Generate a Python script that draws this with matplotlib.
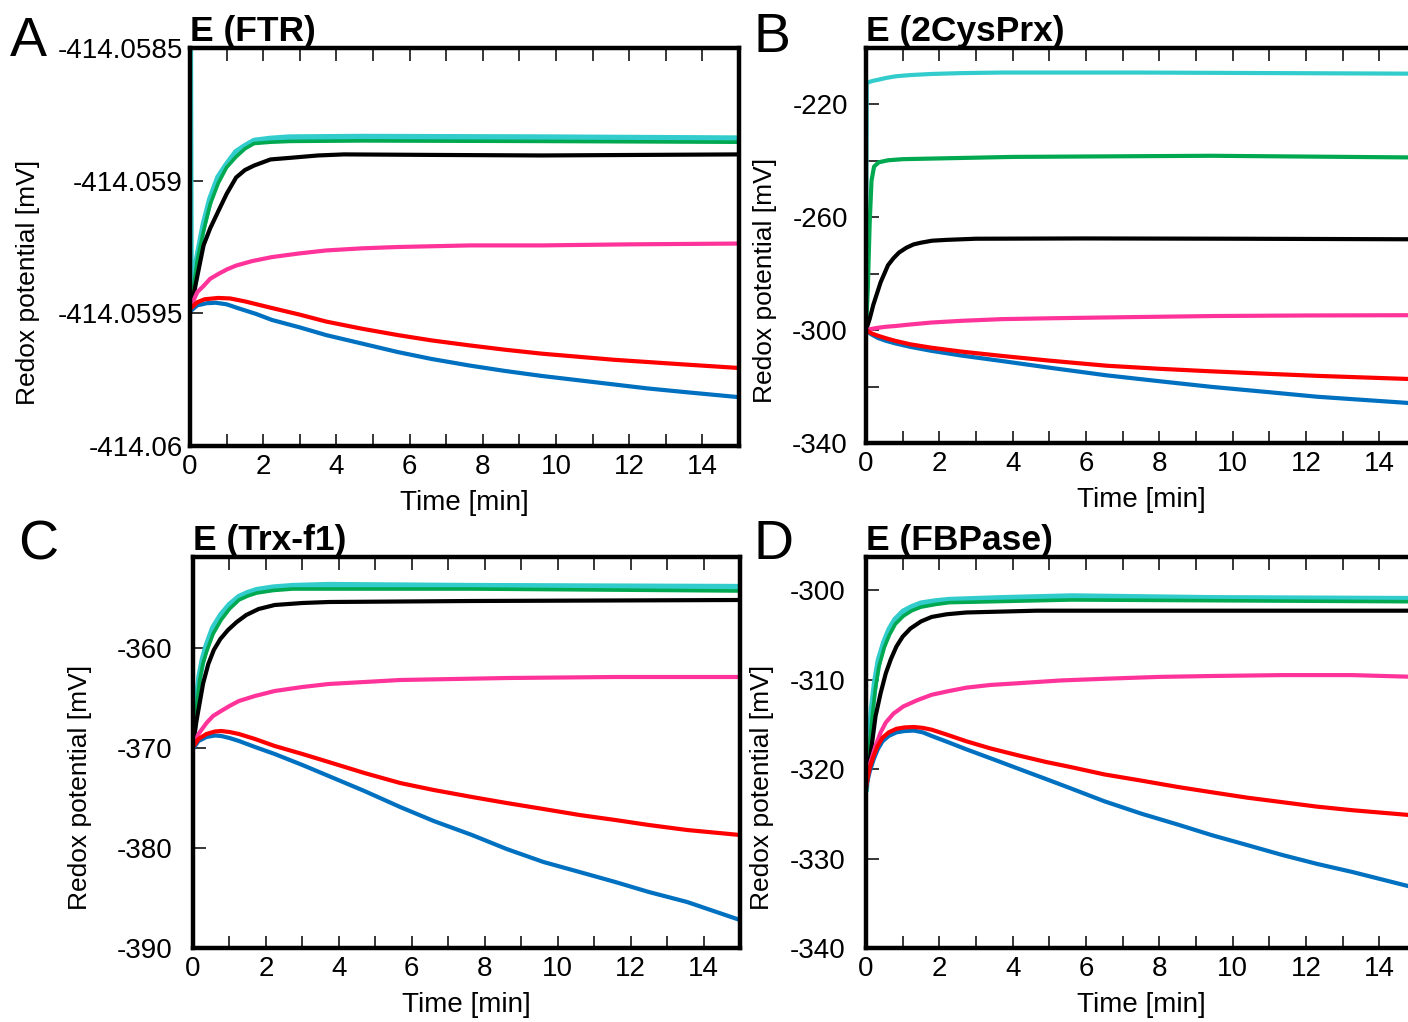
import matplotlib
matplotlib.use("Agg")
import matplotlib.pyplot as plt
from matplotlib.ticker import MultipleLocator, FixedLocator

plt.rcParams["font.family"] = ["Liberation Sans", "DejaVu Sans"]

# colours of the six conditions
C_CYAN = "#33CCCC"
C_GREEN = "#00A850"
C_BLACK = "#000000"
C_PINK = "#FF3399"
C_RED = "#FF0000"
C_BLUE = "#0070C0"

# ---------------------------------------------------------------- #
# Panel A: E (FTR)
# ---------------------------------------------------------------- #
a_cyan_t = [0, 0.02, 0.1, 0.2, 0.37, 0.55, 0.77, 1.0, 1.26, 1.5, 1.75, 2.2,
            2.73, 4.7, 9.6, 15]
a_cyan_v = [-414.0585, -414.05945, -414.05938, -414.05929, -414.059167,
            -414.05907, -414.058988, -414.05894, -414.058892, -414.05887,
            -414.05885, -414.058842, -414.058837, -414.058835, -414.058837,
            -414.058841]
a_green_t = [0, 0.1, 0.2, 0.37, 0.55, 0.77, 1.0, 1.26, 1.5, 1.75, 2.2, 2.73,
             4.7, 9.6, 15]
a_green_v = [-414.0595, -414.0594, -414.0593, -414.05919, -414.05909,
             -414.05901, -414.05895, -414.05891, -414.05888, -414.05886,
             -414.058855, -414.058852, -414.05885, -414.058852, -414.058855]
a_black_t = [0, 0.1, 0.2, 0.37, 0.55, 0.77, 1.0, 1.26, 1.5, 1.75, 2.2, 2.73,
             3.5, 4.21, 6.66, 9.61, 15]
a_black_v = [-414.0595, -414.05943, -414.05936, -414.059244, -414.05918,
             -414.059116, -414.05905, -414.058988, -414.05896, -414.058943,
             -414.05892, -414.058914, -414.058905, -414.058901, -414.058903,
             -414.058905, -414.058901]
a_pink_t = [0, 0.1, 0.2, 0.37, 0.55, 0.77, 1.0, 1.26, 1.7, 2.24, 3, 3.72, 4.7,
            5.68, 7.65, 9.61, 12, 15]
a_pink_v = [-414.05948, -414.05945, -414.05942, -414.059397, -414.05937,
            -414.059352, -414.059335, -414.05932, -414.059303, -414.059288,
            -414.059274, -414.059263, -414.059255, -414.05925, -414.059244,
            -414.059244, -414.05924, -414.059237]
a_red_t = [0, 0.2, 0.4, 0.77, 1.1, 1.5, 2.24, 3, 3.72, 4.7, 5.68, 6.6, 7.65,
           8.6, 9.61, 11.58, 13.54, 15]
a_red_v = [-414.059484, -414.059458, -414.059447, -414.059442, -414.059444,
           -414.059455, -414.05948, -414.059505, -414.059531, -414.059558,
           -414.059582, -414.059602, -414.059621, -414.059637, -414.059652,
           -414.059675, -414.059693, -414.059706]
a_blue_t = [0, 0.2, 0.45, 0.7, 1.0, 1.3, 1.8, 2.24, 3, 3.72, 4.7, 5.68, 6.6,
            7.65, 8.6, 9.61, 10.6, 11.58, 12.5, 13.54, 15]
a_blue_v = [-414.059493, -414.05947, -414.059462, -414.05946, -414.059466,
            -414.05948, -414.059502, -414.059525, -414.059553, -414.059582,
            -414.059614, -414.059646, -414.059672, -414.059697, -414.059717,
            -414.059736, -414.059752, -414.059768, -414.059783, -414.059797,
            -414.059816]
a_yticks = [-414.06, -414.0595, -414.059, -414.0585]
a_ylabels = ["-414.06", "-414.0595", "-414.059", "-414.0585"]

# ---------------------------------------------------------------- #
# Panel B: E (2CysPrx)
# ---------------------------------------------------------------- #
b_cyan_t = [0, 0.02, 0.1, 0.2, 0.35, 0.55, 0.83, 1.2, 1.79, 2.6, 3.7, 7.5, 15]
b_cyan_v = [-300, -212.4, -212.0, -211.6, -211.2, -210.6, -210.0, -209.6,
            -209.2, -208.9, -208.7, -208.7, -209.1]
b_green_t = [0, 0.05, 0.1, 0.15, 0.22, 0.35, 0.6, 1.0, 4.0, 9.4, 15]
b_green_v = [-300, -285, -262, -247, -242, -240.5, -239.8, -239.4, -238.6,
             -238.2, -238.8]
b_black_t = [0, 0.1, 0.2, 0.3, 0.4, 0.5, 0.6, 0.75, 0.9, 1.1, 1.3, 1.5, 1.8,
             2.2, 3, 6, 10, 15]
b_black_v = [-300, -296, -291, -287, -283, -280, -277, -274.5, -272.5, -270.8,
             -269.6, -269.0, -268.3, -268.0, -267.6, -267.5, -267.6, -267.8]
b_pink_t = [0, 0.1, 0.3, 0.55, 0.83, 1.2, 1.79, 2.6, 3.7, 5, 6.57, 9.44, 12, 15]
b_pink_v = [-300, -299.7, -299.2, -298.8, -298.5, -298.0, -297.3, -296.7,
            -296.1, -295.8, -295.5, -295.0, -294.8, -294.7]
b_red_t = [0, 0.1, 0.2, 0.33, 0.55, 0.8, 1.2, 1.77, 2.6, 3.68, 5, 6.55, 8,
           9.42, 11, 12.3, 15]
b_red_v = [-300, -300.8, -301.4, -302.0, -302.9, -303.8, -305.0, -306.2,
           -307.6, -309.1, -310.8, -312.6, -313.7, -314.6, -315.5, -316.2,
           -317.4]
b_blue_t = [0, 0.1, 0.2, 0.33, 0.55, 0.8, 1.2, 1.77, 2.6, 3.68, 5, 6.55, 8,
            9.42, 11, 12.3, 15]
b_blue_v = [-300, -301.1, -301.9, -302.8, -303.8, -304.7, -305.9, -307.3,
            -309.0, -310.9, -313.3, -316.0, -318.1, -320.1, -322.0, -323.6,
            -326.0]
b_yticks = [-340, -320, -300, -280, -260, -240, -220, -200]
b_ylabels = ["-340", "", "-300", "", "-260", "", "-220", ""]

# ---------------------------------------------------------------- #
# Panel C: E (Trx-f1)
# ---------------------------------------------------------------- #
c_cyan_t = [0, 0.08, 0.18, 0.27, 0.37, 0.55, 0.77, 1.0, 1.26, 1.5, 1.75, 2.2,
            2.73, 3.72, 7.65, 15]
c_cyan_v = [-369.5, -366.0, -362.8, -361.1, -359.8, -358.0, -356.7, -355.7,
            -354.9, -354.5, -354.2, -353.95, -353.8, -353.7, -353.8, -353.9]
c_green_t = [0, 0.08, 0.18, 0.27, 0.37, 0.55, 0.77, 1.0, 1.26, 1.5, 1.75, 2.2,
             2.73, 7.65, 15]
c_green_v = [-369.5, -366.5, -363.3, -361.6, -360.4, -358.6, -357.2, -356.1,
             -355.2, -354.8, -354.5, -354.25, -354.1, -354.1, -354.3]
c_black_t = [0, 0.1, 0.28, 0.42, 0.57, 0.75, 0.96, 1.2, 1.46, 1.8, 2.24, 3,
             3.72, 7.65, 15]
c_black_v = [-369.6, -367.2, -363.5, -361.6, -360.2, -359.1, -358.2, -357.4,
             -356.7, -356.1, -355.7, -355.5, -355.4, -355.3, -355.2]
c_pink_t = [0, 0.15, 0.37, 0.55, 0.77, 1.0, 1.26, 1.7, 2.24, 3, 3.72, 4.7,
            5.68, 8.63, 11.58, 15]
c_pink_v = [-369.8, -368.6, -367.5, -366.8, -366.3, -365.8, -365.3, -364.8,
            -364.3, -363.9, -363.6, -363.4, -363.2, -363.0, -362.9, -362.9]
c_red_t = [0, 0.15, 0.37, 0.6, 0.77, 1.0, 1.26, 1.7, 2.24, 3, 3.72, 4.7, 5.68,
           6.6, 7.65, 8.6, 9.61, 10.6, 11.58, 12.5, 13.55, 15]
c_red_v = [-369.9, -369.1, -368.6, -368.35, -368.3, -368.4, -368.6, -369.1,
           -369.8, -370.6, -371.4, -372.5, -373.5, -374.2, -374.9, -375.5,
           -376.1, -376.7, -377.2, -377.7, -378.2, -378.7]
c_blue_t = [0, 0.15, 0.37, 0.6, 0.77, 1.0, 1.26, 1.7, 2.24, 3, 3.72, 4.7, 5.68,
            6.6, 7.65, 8.6, 9.61, 10.6, 11.58, 12.5, 13.55, 15]
c_blue_v = [-370.1, -369.3, -368.9, -368.75, -368.8, -369.0, -369.3, -369.9,
            -370.6, -371.7, -372.8, -374.3, -375.9, -377.3, -378.7, -380.1,
            -381.4, -382.4, -383.4, -384.4, -385.4, -387.2]
c_yticks = [-390, -380, -370, -360]
c_ylabels = ["-390", "-380", "-370", "-360"]

# ---------------------------------------------------------------- #
# Panel D: E (FBPase)
# ---------------------------------------------------------------- #
d_cyan_t = [0, 0.08, 0.16, 0.25, 0.35, 0.5, 0.64, 0.8, 1.02, 1.25, 1.5, 1.9,
            2.27, 3.7, 5.61, 9.44, 15]
d_cyan_v = [-322.2, -317.5, -313.3, -310.2, -307.8, -305.8, -304.4, -303.3,
            -302.4, -301.9, -301.5, -301.25, -301.1, -300.9, -300.7, -300.9,
            -301.0]
d_green_t = [0, 0.08, 0.16, 0.25, 0.35, 0.5, 0.64, 0.8, 1.02, 1.25, 1.5, 1.9,
             2.27, 5.61, 15]
d_green_v = [-322.2, -318.5, -314.5, -311.2, -308.6, -306.4, -305.0, -303.8,
             -302.9, -302.3, -301.9, -301.6, -301.4, -301.1, -301.3]
d_black_t = [0, 0.13, 0.26, 0.4, 0.54, 0.68, 0.83, 1.0, 1.21, 1.5, 1.79, 2.2,
             2.74, 4.66, 15]
d_black_v = [-322.2, -318.2, -314.1, -311.5, -309.3, -307.7, -306.3, -305.2,
             -304.3, -303.5, -303.0, -302.7, -302.5, -302.3, -302.3]
d_pink_t = [0, 0.1, 0.26, 0.4, 0.54, 0.75, 1.02, 1.4, 1.79, 2.24, 2.74, 3.4,
            4.18, 5.3, 6.57, 8, 9.44, 11.35, 13.26, 15]
d_pink_v = [-322.0, -319.5, -317.4, -315.9, -314.8, -313.8, -313.0, -312.3,
            -311.7, -311.3, -310.9, -310.6, -310.4, -310.1, -309.9, -309.7,
            -309.6, -309.5, -309.5, -309.7]
d_red_t = [0, 0.1, 0.21, 0.32, 0.45, 0.62, 0.83, 1.05, 1.31, 1.55, 1.79, 2.24,
           2.74, 3.4, 4.18, 4.9, 5.61, 6.5, 7.52, 8.5, 9.44, 10.4, 11.35, 12.3,
           13.26, 15]
d_red_v = [-322.0, -319.9, -318.5, -317.4, -316.5, -315.9, -315.5, -315.35,
           -315.3, -315.4, -315.6, -316.2, -316.9, -317.7, -318.5, -319.2,
           -319.8, -320.6, -321.3, -322.0, -322.6, -323.2, -323.7, -324.2,
           -324.6, -325.2]
d_blue_t = [0, 0.1, 0.21, 0.32, 0.45, 0.62, 0.83, 1.05, 1.31, 1.55, 1.79, 2.24,
            2.74, 3.4, 4.18, 4.9, 5.61, 6.5, 7.52, 8.5, 9.44, 10.4, 11.35, 12.3,
            13.26, 15]
d_blue_v = [-322.0, -320.3, -318.9, -317.8, -316.9, -316.3, -315.9, -315.75,
            -315.7, -315.9, -316.3, -317.0, -317.8, -318.8, -320.0, -321.1,
            -322.2, -323.6, -325.0, -326.2, -327.4, -328.5, -329.6, -330.6,
            -331.5, -333.3]
d_yticks = [-340, -330, -320, -310, -300]
d_ylabels = ["-340", "-330", "-320", "-310", "-300"]

x_major = [0, 2, 4, 6, 8, 10, 12, 14]

W, H = 1408, 1022


def frac(left, top, right, bottom):
    # pixel box -> figure fraction rect
    return [left / W, 1 - bottom / H, (right - left) / W, (bottom - top) / H]


def draw_panel(ax, series, ylim, yticks, ylabels, ypad, title):
    for t, v, col, lw in series:
        ax.plot(t, v, color=col, lw=lw, solid_joinstyle="round")
    ax.set_xlim(0, 15)
    ax.set_ylim(*ylim)
    ax.xaxis.set_major_locator(FixedLocator(x_major))
    ax.xaxis.set_minor_locator(MultipleLocator(1))
    ax.yaxis.set_major_locator(FixedLocator(yticks))
    ax.set_yticklabels(ylabels)
    ax.tick_params(axis="x", which="both", direction="in", top=True,
                   bottom=True, length=9, width=1.1, labelsize=20, pad=6)
    ax.tick_params(axis="y", which="both", direction="in", left=True,
                   right=False, length=9, width=1.1, labelsize=20, pad=ypad)
    for sp in ax.spines.values():
        sp.set_linewidth(3.2)
    ax.set_xlabel("Time [min]", fontsize=20, labelpad=7)
    ax.set_title(title, loc="left", fontsize=25.5, fontweight="bold", pad=2)


fig = plt.figure(figsize=(W / 100, H / 100), dpi=100)

ax_a = fig.add_axes(frac(190, 48, 739, 446))
ax_b = fig.add_axes(frac(866, 48, 1416, 443))
ax_c = fig.add_axes(frac(193, 557, 740, 948))
ax_d = fig.add_axes(frac(866, 557, 1416, 948))

draw_panel(ax_a,
           [(a_cyan_t, a_cyan_v, C_CYAN, 4.5), (a_green_t, a_green_v, C_GREEN, 2.6),
            (a_black_t, a_black_v, C_BLACK, 3), (a_pink_t, a_pink_v, C_PINK, 3),
            (a_blue_t, a_blue_v, C_BLUE, 3), (a_red_t, a_red_v, C_RED, 3)],
           (-414.06, -414.0585), a_yticks, a_ylabels, 5, "E (FTR)")
draw_panel(ax_b,
           [(b_cyan_t, b_cyan_v, C_CYAN, 3), (b_green_t, b_green_v, C_GREEN, 3),
            (b_black_t, b_black_v, C_BLACK, 3), (b_pink_t, b_pink_v, C_PINK, 3),
            (b_blue_t, b_blue_v, C_BLUE, 3), (b_red_t, b_red_v, C_RED, 3)],
           (-340, -200), b_yticks, b_ylabels, 13, "E (2CysPrx)")
draw_panel(ax_c,
           [(c_cyan_t, c_cyan_v, C_CYAN, 4.5), (c_green_t, c_green_v, C_GREEN, 2.6),
            (c_black_t, c_black_v, C_BLACK, 3), (c_pink_t, c_pink_v, C_PINK, 3),
            (c_blue_t, c_blue_v, C_BLUE, 3), (c_red_t, c_red_v, C_RED, 3)],
           (-390, -350.9), c_yticks, c_ylabels, 15, "E (Trx-f1)")
draw_panel(ax_d,
           [(d_cyan_t, d_cyan_v, C_CYAN, 4.5), (d_green_t, d_green_v, C_GREEN, 2.6),
            (d_black_t, d_black_v, C_BLACK, 3), (d_pink_t, d_pink_v, C_PINK, 3),
            (d_blue_t, d_blue_v, C_BLUE, 3), (d_red_t, d_red_v, C_RED, 3)],
           (-340, -296.3), d_yticks, d_ylabels, 15, "E (FBPase)")

# y axis labels
for xpx, ypx in [(28, 282), (765, 280), (80, 787), (762, 787)]:
    fig.text(xpx / W, 1 - ypx / H, "Redox potential [mV]", rotation=90,
             ha="center", va="center", fontsize=19)

# panel letters
for letter, xpx, ypx in [("A", 10, 42), ("B", 753, 38), ("C", 18, 545),
                         ("D", 753, 545)]:
    fig.text(xpx / W, 1 - ypx / H, letter, ha="left", va="center", fontsize=40)

fig.savefig("out.png", dpi=100)
